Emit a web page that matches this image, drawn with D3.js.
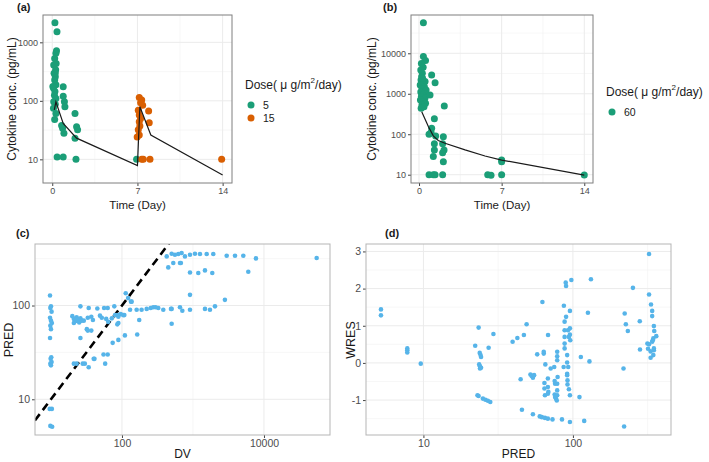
<!DOCTYPE html>
<html lang="en">
<head>
<meta charset="UTF-8">
<style>
  body { margin: 0; background: #fff; }
  svg { font-family: "Liberation Sans", Arial, sans-serif; }
</style>
</head>
<body>
<svg id="chart" width="709" height="462"></svg>
<script src="https://d3js.org/d3.v7.min.js"></script>
<script>
// ---- data ----
// (a) observed cytokine conc. by dose group
const aDoses = ["5", "15"]
const aTime = [0.22, 0.39, 0.35, 0.3, 0.2, 0.32, 0.12, 0.28, 0.15, 0.25, 0.2, 0.3, 0.1, 0.22, 0.05, 0.18, 0.3, 0.12, 0.25, 0.1, 0.3, 0.2, 0.25,
  0.9, 0.9, 1.0, 1.04, 0.77, 0.85, 0.96, 1.87, 2.0, 2.08, 1.87, 0.4, 0.9, 1.95, 6.93,
  7.15, 7.35, 7.26, 7.43, 7.07, 7.15, 7.26, 7.15, 7.2, 7.07, 7.15, 6.98, 7.92, 7.97, 7.35, 7.48, 8.03, 13.92]
const aConc = [2160, 1520, 720, 650, 530, 435, 410, 340, 296, 259, 228, 188, 165, 145, 175, 125, 110, 96, 87, 75, 61, 48, 300,
  174, 120, 96, 79, 38, 34, 28, 61, 36, 32, 23, 11, 11, 10, 10,
  114, 103, 93, 84, 69, 57, 50, 44, 37, 32, 26, 24, 67, 42, 10, 10, 10, 10]
const aDose = ["5", "5", "5", "5", "5", "5", "5", "5", "5", "5", "5", "5", "5", "5", "5", "5", "5", "5", "5", "5", "5", "5", "5",
  "5", "5", "5", "5", "5", "5", "5", "5", "5", "5", "5", "5", "5", "5", "5",
  "15", "15", "15", "15", "15", "15", "15", "15", "15", "15", "15", "15", "15", "15", "15", "15", "15", "15"]
// (a) predicted line
const aLineTime = [0.17, 0.3, 0.9, 2.0, 7.0, 7.2, 8.1, 14.0]
const aLineConc = [70, 96, 41, 23, 7.8, 79, 26, 5.4]

// (b) observed, dose 60
const bDoses = ["60"]
const bTime = [0.37, 0.37, 0.55, 0.2, 0.35, 0.15, 0.28, 0.22, 1.07, 1.36,
  0.17, 0.51, 0.3, 0.1, 0.45, 0.25, 0.6, 0.15, 0.4, 0.33, 0.2, 0.5, 0.12, 0.35, 0.55, 0.25, 0.42, 0.18, 0.3,
  0.93, 2.14, 1.3, 1.07, 1.02, 0.85, 1.41, 1.3, 1.3, 1.21, 2.06, 2.0, 2.12, 2.0, 2.06,
  0.85, 1.21, 1.36, 2.0, 5.82, 6.1, 7.0, 7.0, 7.0, 14.0]
const bConc = [57000, 8300, 6600, 5600, 4500, 3850, 3200, 2650, 2900, 1880,
  2190, 2000, 1820, 1650, 1490, 1350, 1230, 1100, 1020, 930, 850, 780, 700, 640, 580, 530, 480, 440, 2400,
  930, 500, 240, 141, 110, 100, 91, 58, 41, 28, 87, 58, 41, 35, 21,
  10, 10, 10, 10, 10, 9.7, 10, 23, 21, 9.8]
const bLineTime = [0.23, 0.79, 1.21, 1.63, 2.2, 3.9, 5.59, 7.0, 14.0]
const bLineConc = [360, 155, 91, 70, 60, 41, 29, 23, 9.8]

// (c) PRED vs DV
const cDV = [9.7, 10, 9.8, 10.2, 9.7, 10, 10.3, 9.8, 10, 9.7, 10.1, 9.9, 10.2, 9.8, 10, 9.6, 10.3, 9.8, 10.4,
  26, 34, 45, 56, 63, 78,
  20, 21, 22, 23, 24, 25, 26, 27, 21,
  29, 33, 37, 39, 49, 52, 60, 64, 72, 86, 96, 108,
  32, 33, 37, 26, 89, 86, 74, 89, 110, 164, 175,
  21, 23, 28, 30, 34, 41, 58, 63, 55, 40,
  130, 161, 189, 223, 254, 276, 298, 325, 382, 501, 656, 908, 1476, 1735, 2042, 2818, 490, 708,
  134, 113, 122, 137, 89, 80, 104, 908, 501,
  427, 501, 557, 621, 692, 771, 908, 1067, 1256, 1560, 1933, 2985, 3909, 5117, 7709, 55200,
  449, 528, 656, 676, 908, 1189, 1476, 1871, 6012]
const cPRED = [128, 98, 94, 86, 74, 69, 65, 61, 56, 45, 28, 27, 25, 24, 23, 7.9, 7.9, 5.2, 5.1,
  98, 94, 93, 94, 94, 98,
  77, 72, 68, 75, 70, 66, 73, 69, 65,
  69, 74, 76, 70, 78, 74, 72, 67, 73, 79, 81, 79,
  56, 54, 54, 45, 65, 63, 40, 43, 48, 49, 70,
  24, 24, 24, 24, 22, 27, 24, 30, 30, 27,
  90, 90, 90, 92, 94, 96, 96, 94, 90, 92, 96, 90, 92, 90, 98, 115, 92, 88,
  110, 135, 120, 110, 76, 79, 79, 130, 64,
  334, 357, 348, 354, 363, 334, 348, 357, 354, 354, 354, 340, 340, 340, 318, 321,
  255, 284, 284, 284, 225, 222, 237, 222, 229]

// (d) WRES vs PRED
const dPRED = [5.2, 5.2, 7.8, 7.8, 7.8, 9.6, 22.2, 23.4, 23.8, 24.1, 24.3, 23.6, 23.9, 24.3, 23.9, 23, 23.4, 25, 26, 27, 28, 27.3, 29.4,
  39.5, 42.5, 47, 49, 44.7, 45.6, 52, 53, 54, 55, 54, 57.7, 62.5, 63.8, 63.8, 65.4, 64.5, 64.5, 65,
  60, 62, 65, 68, 68.2, 68, 68, 68.5, 68, 71, 73,
  75, 75.5, 76, 75.5, 76, 77, 78.5, 78.5, 78.5, 79, 78.5, 78.5, 78.5, 78, 84.5, 86.7, 87, 88, 88, 88, 88, 88,
  89.5, 90, 90, 91.5, 91.5, 91.5, 91.5, 92, 92, 92.7, 94, 94, 95.5, 95.5, 95.5, 95.5, 96, 95.5, 97.6, 93,
  110.6, 119, 113, 129, 132, 126,
  218, 220, 222, 226, 233, 252, 280, 281, 315, 318, 323, 323, 323, 331, 331, 333, 339, 339, 339, 342, 345, 348, 348, 348, 350, 361, 345]
const dWRES = [1.44, 1.28, 0.39, 0.34, 0.28, -0.02, 0.46, 0.95, 0.27, 0.21, 0.16, -0.04, -0.09, -0.13, -0.15, -0.87, -0.89, -0.96, -0.99, -1.02, -1.05, 0.41, 0.78,
  0.57, 0.67, 0.75, 1.04, -0.44, -1.26, -0.31, -0.35, -0.4, -0.33, -1.38, 0.23, 1.64, 0.25, 0.3, -0.04, -0.54, -0.69, -0.87,
  -1.44, -1.46, -1.48, -1.5, 0.75, -0.42, -0.65, -0.78, -0.83, -0.15, -1.52,
  -0.11, -0.49, -0.56, -0.85, -0.92, -0.96, 0.3, 0.18, 0.07, -0.38, -0.56, -0.74, -0.87, -1.01, -1.52, -0.11, 1.54, 1.11, 0.88, 0.7, 0.52, 0.39,
  2.16, 2.07, 1.24, 0.21, 0.01, -0.29, -0.33, -0.47, -0.58, 0.88, 0.7, -0.71, -0.87, -1.59, 1.4, 0.93, 0.61, 0.76, 2.23, -0.11, -0.92, -1.56,
  0.16, 0.04, 2.25, 1.35, -0.15, -1.71,
  1.33, 1.04, 0.86, 2.02, 1.12, 0.36, 0.52, 0.38, 1.84, 2.93, 0.5, 0.31, 0.14, 1.57, 1.4, 1.26, 0.57, 0.61, 0.66, 0.34, 0.39, 0.99, 0.86, 0.72, 0.21, 0.39, 0.59]

// tick labels
const timeTicks = [0, 7, 14]
const aConcTicks = [10, 100, 1000]
const bConcTicks = [10, 100, 1000, 10000]
const dvTicks = [100, 10000]
const predTicks = [10, 100]
const wresTicks = [-1, 0, 1, 2, 3]

const doseColor = d3.scaleOrdinal().domain(["5", "15", "60"]).range(["#1b9e77", "#d95f02", "#1b9e77"])
const blue = "#56b4e9"

const svg = d3.select('#chart')

// draws grid, border, ticks of one panel and returns a clipped group for marks
function panel(id, x, y, xTicks, yTicks, xMinor, yMinor, borderColor, tickSize, fmt) {
  const [x0, x1] = x.range()
  const [y1, y0] = y.range()
  const g = svg.append('g')
  g.append('clipPath').attr('id', id).append('rect')
    .attr('x', x0).attr('y', y0).attr('width', x1 - x0).attr('height', y1 - y0)
  const grid = g.append('g')
  grid.selectAll('.vmin').data(xMinor).enter().append('line')
    .attr('x1', d => x(d)).attr('x2', d => x(d)).attr('y1', y0).attr('y2', y1)
    .attr('stroke', '#f2f2f2').attr('stroke-width', 0.6)
  grid.selectAll('.hmin').data(yMinor).enter().append('line')
    .attr('y1', d => y(d)).attr('y2', d => y(d)).attr('x1', x0).attr('x2', x1)
    .attr('stroke', '#f2f2f2').attr('stroke-width', 0.6)
  grid.selectAll('.vmaj').data(xTicks).enter().append('line')
    .attr('x1', d => x(d)).attr('x2', d => x(d)).attr('y1', y0).attr('y2', y1)
    .attr('stroke', '#ebebeb').attr('stroke-width', 1)
  grid.selectAll('.hmaj').data(yTicks).enter().append('line')
    .attr('y1', d => y(d)).attr('y2', d => y(d)).attr('x1', x0).attr('x2', x1)
    .attr('stroke', '#ebebeb').attr('stroke-width', 1)

  // axes
  const bottom = d3.axisBottom(x).tickValues(xTicks).tickSize(3).tickPadding(2).tickFormat(fmt)
  const left = d3.axisLeft(y).tickValues(yTicks).tickSize(3).tickPadding(2).tickFormat(fmt)
  const ax = g.append('g').attr('transform', `translate(0, ${y1})`).call(bottom)
  const ay = g.append('g').attr('transform', `translate(${x0}, 0)`).call(left)
  for (const a of [ax, ay]) {
    a.select('.domain').remove()
    a.selectAll('line').attr('stroke', '#444')
    a.selectAll('text').attr('fill', '#4d4d4d').attr('font-size', tickSize)
      .attr('font-family', '"Liberation Sans", Arial, sans-serif')
  }

  const marks = g.append('g').attr('clip-path', `url(#${id})`)
  g.append('rect').attr('x', x0).attr('y', y0).attr('width', x1 - x0).attr('height', y1 - y0)
    .attr('fill', 'none').attr('stroke', borderColor).attr('stroke-width', 1)
  return marks
}

const fmt = d => String(d)

// ---------- (a) ----------
const xA = d3.scaleLinear().domain([-0.76, 14.77]).range([43, 232])
const yA = d3.scaleLog().domain([3.94, 2931]).range([183, 15])
const gA = panel('clipA', xA, yA, timeTicks, aConcTicks, [3.5, 10.5], [31.62, 316.2], '#7f7f7f', 9, fmt)
gA.selectAll('circle').data(aTime).enter().append('circle')
  .attr('cx', d => xA(d)).attr('cy', (d, i) => yA(aConc[i])).attr('r', 3.5)
  .attr('fill', (d, i) => doseColor(aDose[i]))
gA.append('path').datum(aLineTime)
  .attr('d', d3.line().x(d => xA(d)).y((d, i) => yA(aLineConc[i])))
  .attr('fill', 'none').attr('stroke', '#1a1a1a').attr('stroke-width', 1.2)

// ---------- (b) ----------
const xB = d3.scaleLinear().domain([-0.68, 14.74]).range([411, 593])
const yB = d3.scaleLog().domain([6.24, 88300]).range([183, 15])
const gB = panel('clipB', xB, yB, timeTicks, bConcTicks, [3.5, 10.5], [31.62, 316.2, 3162, 31620], '#7f7f7f', 9, fmt)
gB.selectAll('circle').data(bTime).enter().append('circle')
  .attr('cx', d => xB(d)).attr('cy', (d, i) => yB(bConc[i])).attr('r', 3.5)
  .attr('fill', doseColor("60"))
gB.append('path').datum(bLineTime)
  .attr('d', d3.line().x(d => xB(d)).y((d, i) => yB(bLineConc[i])))
  .attr('fill', 'none').attr('stroke', '#1a1a1a').attr('stroke-width', 1.2)

// ---------- (c) ----------
const xC = d3.scaleLog().domain([5.96, 85100]).range([35, 330])
const yC = d3.scaleLog().domain([4.16, 453]).range([435, 244])
const gC = panel('clipC', xC, yC, dvTicks, predTicks, [1000], [31.62, 316.2], '#b5b5b5', 10.5, fmt)
gC.append('line')
  .attr('x1', xC(1)).attr('y1', yC(1)).attr('x2', xC(1000)).attr('y2', yC(1000))
  .attr('stroke', '#000').attr('stroke-width', 2.6).attr('stroke-dasharray', '8,5')
gC.selectAll('circle').data(cDV).enter().append('circle')
  .attr('cx', d => xC(d)).attr('cy', (d, i) => yC(cPRED[i])).attr('r', 2.3)
  .attr('fill', blue)

// ---------- (d) ----------
const xD = d3.scaleLog().domain([4.13, 453]).range([366, 671])
const yD = d3.scaleLinear().domain([-1.94, 3.2]).range([435, 244])
const gD = panel('clipD', xD, yD, predTicks, wresTicks, [31.62, 316.2], [-1.5, -0.5, 0.5, 1.5, 2.5], '#b5b5b5', 10.5, fmt)
gD.selectAll('circle').data(dPRED).enter().append('circle')
  .attr('cx', d => xD(d)).attr('cy', (d, i) => yD(dWRES[i])).attr('r', 2.3)
  .attr('fill', blue)

// ---------- titles ----------
function text(x, y, s, size, opts = {}) {
  const t = svg.append('text').attr('x', x).attr('y', y).text(s)
    .attr('font-size', size).attr('fill', opts.fill || '#1a1a1a')
    .attr('text-anchor', opts.anchor || 'middle').attr('dominant-baseline', 'central')
  if (opts.bold) t.attr('font-weight', 'bold')
  if (opts.rotate) t.attr('transform', `rotate(-90, ${x}, ${y})`)
  return t
}
text(17, 7, '(a)', 11, { anchor: 'start', bold: true })
text(383, 7, '(b)', 11, { anchor: 'start', bold: true })
text(16, 233, '(c)', 11, { anchor: 'start', bold: true })
text(385, 233, '(d)', 11, { anchor: 'start', bold: true })

text(12, 99, 'Cytokine conc. (pg/mL)', 12, { rotate: true })
text(372, 99, 'Cytokine conc. (pg/mL)', 12, { rotate: true })
text(137.5, 205, 'Time (Day)', 11.5)
text(502, 205, 'Time (Day)', 11.5)
text(9, 340, 'PRED', 12.5, { rotate: true })
text(182.5, 454, 'DV', 12)
text(351, 340, 'WRES', 12.5, { rotate: true })
text(518.5, 454, 'PRED', 12)

// ---------- legends ----------
function legend(x, y, doses) {
  const t = svg.append('text').attr('x', x).attr('y', y).attr('font-size', 12)
    .attr('fill', '#1a1a1a').attr('dominant-baseline', 'central')
  t.append('tspan').text('Dose( \u03bc g/m')
  t.append('tspan').text('2').attr('font-size', 8).attr('dy', -5)
  t.append('tspan').text('/day)').attr('dy', 5)
  const items = svg.append('g').selectAll('g').data(doses).enter().append('g')
    .attr('transform', (d, i) => `translate(${x + 6}, ${y + 20 + i * 13})`)
  items.append('circle').attr('r', 3.5).attr('fill', d => doseColor(d))
  items.append('text').attr('x', 12).text(d => d).attr('font-size', 10.5)
    .attr('fill', '#1a1a1a').attr('dominant-baseline', 'central')
}
legend(245, 85, aDoses)
legend(606, 92, bDoses)
</script>
</body>
</html>
